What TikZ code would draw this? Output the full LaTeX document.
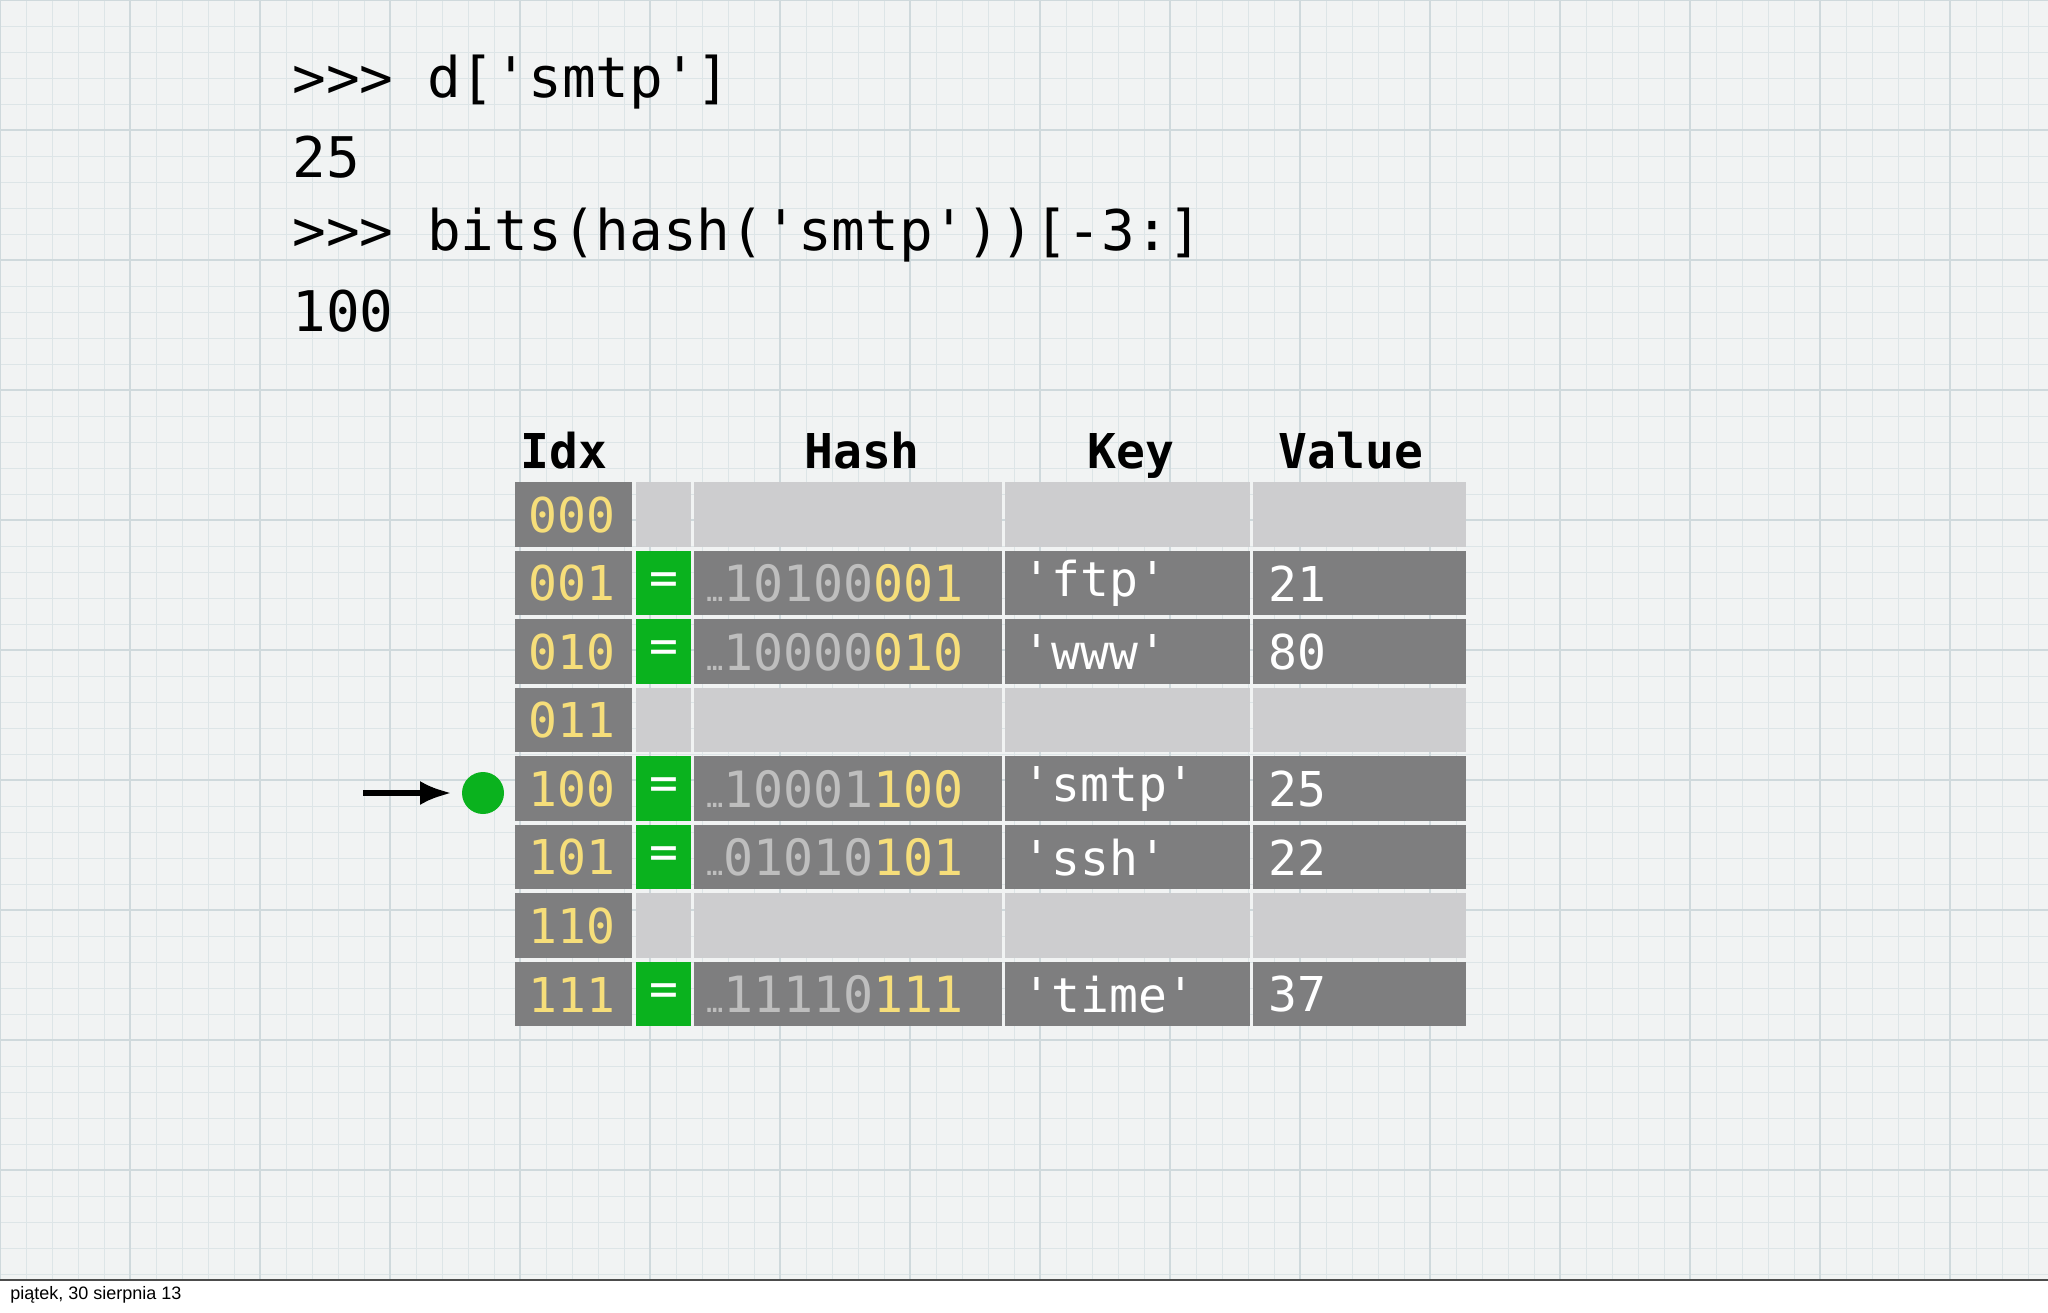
\documentclass[tikz,border=0pt]{standalone}
\usepackage{fontspec}
\usetikzlibrary{arrows.meta}
\setmainfont{Liberation Sans}
\newfontfamily\codefont{DejaVu Sans Mono}
\definecolor{bgc}{HTML}{F1F3F3}
\definecolor{gridc}{HTML}{DDE5E7}
\definecolor{gridm}{HTML}{CFD9DC}
\definecolor{darkc}{HTML}{7E7E7F}
\definecolor{lightc}{HTML}{CDCDCF}
\definecolor{greenc}{HTML}{0AB21E}
\definecolor{yel}{HTML}{F6DE7A}
\definecolor{dig}{HTML}{BEBEBE}
\tikzset{
  code/.style={anchor=west,inner sep=0pt,font=\codefont\fontsize{28pt}{30pt}\selectfont},
  hdr/.style={anchor=base,inner sep=0pt,font=\codefont\bfseries\fontsize{24pt}{26pt}\selectfont},
  cell/.style={anchor=west,inner sep=0pt,font=\codefont\fontsize{24pt}{26pt}\selectfont},
}
\newcommand{\Y}[1]{\textcolor{yel}{#1}}
\newcommand{\G}[1]{\textcolor{dig}{#1}}
\newcommand{\D}{\textcolor{dig}{\fontsize{14pt}{14pt}\selectfont …}}
\begin{document}
\begin{tikzpicture}[x=0.5pt,y=-0.5pt]
\useasboundingbox (0,0) rectangle (2048,1312);
\fill[bgc] (0,0) rectangle (2048,1280);
\foreach \i in {0,26,...,2048} \draw[gridc,line width=0.5pt] (\i,0) -- (\i,1280);
\foreach \i in {0,26,...,1280} \draw[gridc,line width=0.5pt] (0,\i) -- (2048,\i);
\foreach \i in {0,130,...,2048} \draw[gridm,line width=0.7pt] (\i,0) -- (\i,1280);
\foreach \i in {0,130,...,1280} \draw[gridm,line width=0.7pt] (0,\i) -- (2048,\i);
\fill[white] (0,1280) rectangle (2048,1312);
\draw[black!70,line width=0.8pt] (0,1280) -- (2048,1280);
\node[anchor=west,inner sep=0pt,font=\fontsize{9pt}{10pt}\selectfont] (foot) at (10,1295) {piątek, 30 sierpnia 13};
% code
\node[code] (c1) at (292,82) {>>> d['smtp']};
\node[code] (c2) at (292,157) {25};
\node[code] (c3) at (292,235) {>>> bits(hash('smtp'))[-3:]};
\node[code] (c4) at (292,311) {100};
% headers
\node[hdr] (h1) at (564,468) {Idx};
\node[hdr] (h2) at (862,468) {Hash};
\node[hdr] (h3) at (1131,468) {Key};
\node[hdr] (h4) at (1351,468) {Value};
% rows
\foreach \r/\idx/\full/\hash/\key/\val in {
 0/000/0/{}/{}/{},
 1/001/1/{\D\G{10100}\Y{001}}/{'ftp'}/21,
 2/010/1/{\D\G{10000}\Y{010}}/{'www'}/80,
 3/011/0/{}/{}/{},
 4/100/1/{\D\G{10001}\Y{100}}/{'smtp'}/25,
 5/101/1/{\D\G{01010}\Y{101}}/{'ssh'}/22,
 6/110/0/{}/{}/{},
 7/111/1/{\D\G{11110}\Y{111}}/{'time'}/37}{
  \pgfmathsetmacro{\t}{482+68.5*\r}
  \pgfmathsetmacro{\b}{\t+64.5}
  \pgfmathsetmacro{\m}{\t+33}
  \fill[darkc] (515,\t) rectangle (632,\b);
  \ifnum\full=1
    \fill[greenc] (636,\t) rectangle (691,\b);
    \fill[darkc] (694,\t) rectangle (1002,\b);
    \fill[darkc] (1005,\t) rectangle (1250,\b);
    \fill[darkc] (1253,\t) rectangle (1466,\b);
    \node[cell,anchor=center,text=white] (e\r) at (663.5,\m) {=};
    \node[cell,font=\codefont\fontsize{25pt}{26pt}\selectfont] (hs\r) at (706,\m) {\hash};
    \node[cell,text=white] (k\r) at (1022,\m) {\key};
    \node[cell,text=white] (v\r) at (1268,\m) {\val};
  \else
    \fill[lightc] (636,\t) rectangle (691,\b);
    \fill[lightc] (694,\t) rectangle (1002,\b);
    \fill[lightc] (1005,\t) rectangle (1250,\b);
    \fill[lightc] (1253,\t) rectangle (1466,\b);
  \fi
  \node[cell,text=yel] (i\r) at (528,\m) {\idx};
}
% pointer
\fill[greenc] (483,793) circle (21) coordinate (dot);
\coordinate (as) at (363,793);
\coordinate (ae) at (452,793);
\draw[line width=3pt,-{Latex[length=16pt,width=12pt]}] (as) -- (ae);
\end{tikzpicture}
\end{document}
